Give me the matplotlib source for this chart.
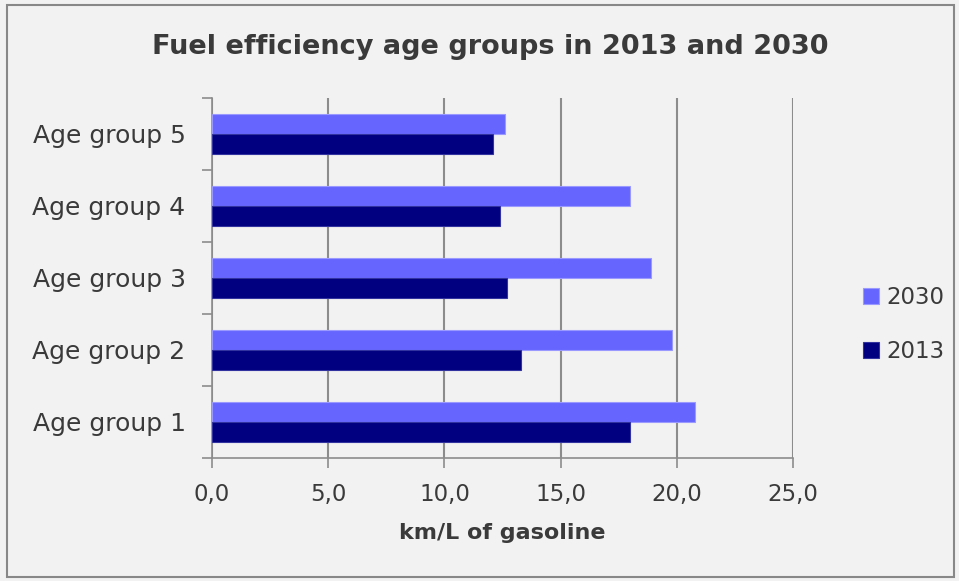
import matplotlib.pyplot as plt
import numpy as np
from matplotlib.patches import Rectangle

# Fuel efficiency per age group (km/L)
groups = ["Age group 1", "Age group 2", "Age group 3", "Age group 4", "Age group 5"]
eff_2030 = [20.8, 19.8, 18.9, 18.0, 12.6]
eff_2013 = [18.0, 13.3, 12.7, 12.4, 12.1]
xticks = [0, 5, 10, 15, 20, 25]
xtick_labels = ["0,0", "5,0", "10,0", "15,0", "20,0", "25,0"]

plt.rcParams['font.family'] = ['DejaVu Sans']
txt = '#3a3a3a'
grid = '#8c8c8c'

fig = plt.figure(figsize=(9.59, 5.81), dpi=100, facecolor='#f2f2f2')
fig.patches.append(Rectangle((7 / 959, 4 / 581), 947 / 959, 572 / 581, transform=fig.transFigure,
                             fill=False, edgecolor='#888888', linewidth=1.5))
ax = fig.add_axes([212 / 959, 1 - 458 / 581, 581 / 959, 360 / 581])
ax.set_facecolor('#f2f2f2')

y = np.arange(len(groups))
h = 0.28
ax.barh(y + h / 2, eff_2030, height=h, color='#6666ff', edgecolor='#9999ff', linewidth=0.8, label='2030', zorder=3)
ax.barh(y - h / 2, eff_2013, height=h, color='#000080', edgecolor='#3333a0', linewidth=0.8, label='2013', zorder=3)

ax.set_xlim(0, 25)
ax.set_ylim(-0.5, len(groups) - 0.5)
ax.set_xticks(xticks)
ax.set_xticklabels(xtick_labels, fontsize=16.5, color=txt)
ax.set_yticks(y)
ax.set_yticklabels(groups, fontsize=18, color=txt)
ax.set_yticks(np.arange(len(groups) + 1) - 0.5, minor=True)
ax.tick_params(axis='y', which='major', length=0, pad=19)
ax.tick_params(axis='y', which='minor', length=7, color=grid, width=1.2)
ax.tick_params(axis='x', length=7, color=grid, width=1.2, pad=11)
ax.xaxis.grid(True, color=grid, linewidth=1.5, zorder=0)

for s in ['top', 'right']:
    ax.spines[s].set_visible(False)
for s in ['left', 'bottom']:
    ax.spines[s].set_color(grid)
    ax.spines[s].set_linewidth(1.2)

ax.set_xlabel("km/L of gasoline", fontsize=16, fontweight='bold', color=txt, labelpad=12)
fig.text(490 / 959, 1 - 47 / 581, "Fuel efficiency age groups in 2013 and 2030",
         ha='center', va='center', fontsize=19.5, fontweight='bold', color=txt)

ax.legend(loc='center left', bbox_to_anchor=(1.085, 0.37), frameon=False, fontsize=16.5,
          handlelength=0.7, handleheight=0.7, handletextpad=0.3, labelspacing=1.35,
          labelcolor=txt)

fig.savefig('out.png', dpi=100, facecolor=fig.get_facecolor())
